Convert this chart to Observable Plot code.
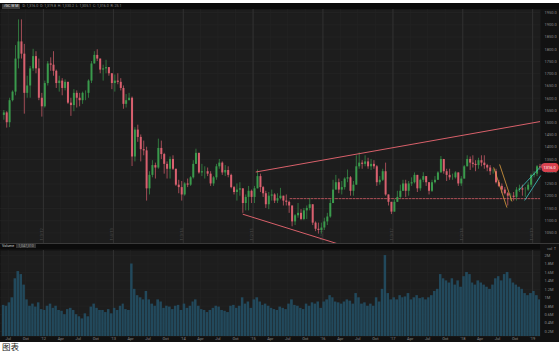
<!DOCTYPE html>
<html><head><meta charset="utf-8">
<script src="https://cdn.jsdelivr.net/npm/d3@7"></script>
<script src="https://cdn.jsdelivr.net/npm/@observablehq/plot@0.6"></script>
<style>
html,body{margin:0;padding:0;background:#fff;width:559px;height:351px;overflow:hidden;font-family:Roboto,"DejaVu Sans",sans-serif;}
#wrap{position:relative;width:559px;height:351px;}
.abs{position:absolute;}
#hdr{left:0;top:3px;width:559px;height:6px;background:#0b0b0b;color:#8a8a8a;font-size:3.6px;line-height:6px;white-space:nowrap;}
#hdr .sym{display:inline-block;background:#3c3c3c;color:#e8e8e8;padding:0 2px;margin:0 2px 0 2px;line-height:5px;}
#sep{left:0;top:243px;width:559px;height:1px;background:#3a3a3a;}
#vhdr{left:0;top:244px;width:540px;height:5px;background:#0b0b0b;color:#cfcfcf;font-size:3.6px;line-height:5px;white-space:nowrap;}
#vhdr .val{display:inline-block;background:#333;color:#9a9a9a;padding:0 2px;line-height:4px;margin-left:2px;}
#cap{left:2px;top:342px;font-family:"Noto Sans CJK SC",sans-serif;font-size:8.5px;line-height:9px;color:#1a1a1a;}
</style></head><body>
<div id="wrap">
  <div id="hdr" class="abs"><span class="sym">/GC W M</span>D: 1,316.0 &nbsp;O: 1,319.8 &nbsp;H: 1,330.2 &nbsp;L: 1,305.1 &nbsp;C: 1,316.0 &nbsp;R: 25.1</div>
  <div id="price" class="abs" style="left:0;top:9px"></div>
  <div id="sep" class="abs"></div>
  <div id="vol" class="abs" style="left:0;top:244px"></div>
  <div id="vhdr" class="abs"><span style="margin-left:2px">Volume</span><span class="val">1,047,310</span></div>
  <div id="cap" class="abs">图表</div>
</div>
<script>
// ---- data (gold futures, half-month candles) ----
const firstOpen = 1530;
const closes = [
  1540,1500,1590,1625,1760,1830,1780,1620,1650,1720,1770,1720,1600,1565,
  1660,1740,1735,1710,1660,1670,1640,1665,1580,1570,1620,1600,1590,1620,1620,1670,1740,1775,1760,1715,1720,1725,1700,1660,
  1670,1665,1640,1575,1590,1600,1360,1470,1440,1390,1385,1230,1285,1325,1315,1395,1370,1330,1310,1350,1310,1245,1235,1205,
  1250,1245,1275,1330,1375,1295,1300,1300,1290,1250,1275,1320,1335,1295,1305,1285,1235,1215,1225,1230,1170,1195,1220,1195,
  1230,1280,1235,1210,1165,1200,1205,1180,1190,1200,1180,1175,1160,1095,1120,1130,1105,1140,1150,1165,1090,1065,1060,1070,
  1095,1115,1170,1225,1255,1225,1235,1270,1275,1220,1245,1320,1335,1330,1340,1320,1330,1320,1255,1265,1300,1205,1175,1135,
  1175,1195,1220,1250,1220,1250,1255,1285,1230,1265,1280,1255,1220,1255,1265,1295,1350,1300,1285,1275,1275,1295,1250,1270,
  1320,1350,1335,1330,1325,1345,1335,1325,1315,1300,1300,1255,1240,1225,1210,1200,1200,1195,1225,1230,1225,1225,1245,1285,
  1290,1320,1316
];
const highs = [
  1550,1545,1600,1630,1815,1920,1920,1820,1690,1730,1800,1790,1760,1620,
  1670,1750,1765,1790,1715,1690,1680,1675,1665,1600,1635,1630,1620,1625,1630,1675,1750,1790,1798,1760,1735,1755,1725,1700,
  1695,1700,1680,1650,1615,1620,1605,1480,1490,1450,1425,1400,1300,1345,1335,1433,1425,1375,1340,1360,1365,1295,1265,1260,
  1255,1270,1280,1345,1392,1375,1330,1320,1315,1300,1280,1330,1350,1340,1325,1320,1290,1240,1250,1255,1230,1205,1240,1225,
  1240,1307,1290,1240,1220,1215,1225,1210,1210,1232,1200,1205,1180,1160,1125,1170,1145,1150,1160,1190,1160,1095,1090,1090,
  1110,1130,1185,1265,1285,1270,1260,1275,1307,1280,1260,1365,1377,1345,1365,1355,1350,1345,1325,1280,1310,1335,1205,1175,
  1185,1220,1245,1265,1265,1260,1275,1295,1270,1270,1296,1275,1250,1265,1280,1300,1362,1340,1310,1310,1290,1300,1290,1280,
  1325,1365,1360,1365,1345,1355,1365,1365,1330,1325,1310,1310,1265,1250,1235,1215,1210,1215,1235,1245,1245,1235,1255,1290,
  1300,1325,1330
];
const lows = [
  1510,1478,1480,1585,1610,1720,1760,1535,1600,1600,1710,1700,1590,1523,
  1560,1650,1710,1690,1640,1625,1610,1630,1575,1526,1545,1560,1565,1575,1590,1600,1660,1740,1750,1700,1670,1700,1690,1635,
  1625,1655,1630,1555,1560,1590,1321,1340,1420,1340,1365,1180,1205,1275,1270,1310,1350,1290,1270,1270,1305,1240,1210,1180,
  1200,1235,1240,1270,1330,1290,1280,1270,1280,1240,1240,1265,1310,1285,1280,1275,1230,1205,1180,1200,1130,1140,1140,1170,
  1170,1230,1215,1195,1150,1145,1180,1170,1170,1185,1160,1160,1130,1075,1080,1110,1100,1100,1105,1140,1080,1055,1045,1045,
  1060,1080,1110,1190,1230,1210,1205,1225,1255,1200,1200,1250,1310,1310,1320,1310,1305,1310,1240,1245,1260,1200,1160,1125,
  1145,1180,1190,1225,1195,1200,1240,1250,1215,1220,1255,1240,1205,1215,1250,1265,1300,1290,1260,1265,1265,1270,1240,1240,
  1275,1320,1305,1315,1300,1310,1320,1310,1300,1285,1290,1250,1235,1210,1205,1160,1180,1180,1180,1215,1200,1195,1220,1235,
  1275,1280,1305
];
const volumes = [ // millions of contracts
  0.82,0.80,0.88,1.00,1.45,1.62,1.55,1.30,0.95,0.80,0.85,0.78,0.88,0.72,
  0.70,0.80,0.85,0.75,0.80,0.70,0.68,0.60,0.72,0.75,0.70,0.60,0.55,0.50,0.62,0.55,0.78,0.85,0.75,0.70,0.70,0.65,0.72,0.62,
  0.75,0.70,0.80,0.85,0.72,0.70,1.80,1.20,1.05,1.00,0.95,1.15,0.95,0.85,0.80,0.95,0.90,0.75,0.80,0.78,0.72,0.80,0.82,0.70,
  0.85,0.75,0.80,0.90,0.95,0.80,0.72,0.70,0.65,0.70,0.75,0.80,0.78,0.70,0.68,0.65,0.80,0.82,0.75,0.80,1.00,0.85,0.90,0.75,
  0.95,1.00,0.90,0.82,0.85,0.80,0.75,0.72,0.70,0.78,0.75,0.72,0.85,0.95,0.82,0.80,0.75,0.72,0.85,0.80,0.88,0.85,0.90,0.75,
  0.90,0.95,1.05,1.00,0.90,0.88,0.85,0.90,0.95,0.92,0.85,1.10,1.00,0.85,0.88,0.80,0.85,0.80,1.00,0.90,1.20,2.00,1.10,0.95,
  1.00,0.95,1.05,1.00,1.02,1.10,0.95,1.00,1.05,0.98,1.00,0.95,1.00,1.05,1.15,1.20,1.55,1.45,1.40,1.35,1.45,1.30,1.40,1.25,
  1.50,1.60,1.55,1.35,1.30,1.40,1.35,1.30,1.25,1.20,1.30,1.45,1.50,1.40,1.55,1.60,1.45,1.35,1.30,1.25,1.20,1.10,1.05,1.10,
  1.15,1.05,0.95
];
const priceTicks = [1050,1100,1150,1200,1250,1300,1350,1400,1450,1500,1550,1600,1650,1700,1750,1800,1850,1900,1950];
const volTicks = [0.2,0.4,0.6,0.8,1.0,1.2,1.4,1.6,1.8,2.0];
const quarterTicks = ["2011-07-01","2011-10-01","2012-01-01","2012-04-01","2012-07-01","2012-10-01","2013-01-01","2013-04-01","2013-07-01","2013-10-01","2014-01-01","2014-04-01","2014-07-01","2014-10-01","2015-01-01","2015-04-01","2015-07-01","2015-10-01","2016-01-01","2016-04-01","2016-07-01","2016-10-01","2017-01-01","2017-04-01","2017-07-01","2017-10-01","2018-01-01","2018-04-01","2018-07-01","2018-10-01","2019-01-01"];
const yearLabels = ["1/3/12","1/4/13","1/3/14","1/2/15","1/4/16","1/3/17","1/2/18","1/4/19"];
// drawn studies
const resistanceLine = [{date:"2015-01-17", price:1299},{date:"2019-02-11", price:1505}];
const supportLine = [{date:"2014-11-10", price:1126},{date:"2016-05-05", price:994}];
const horizLevel = [{date:"2015-07-13", price:1190},{date:"2019-02-11", price:1190}];
const orangeA = [{date:"2018-06-12", price:1316},{date:"2018-08-19", price:1155}];
const orangeB = [{date:"2018-07-13", price:1328},{date:"2018-09-14", price:1180}];
const cyanA = [{date:"2018-10-21", price:1225},{date:"2019-02-11", price:1320}];
const cyanB = [{date:"2018-11-21", price:1184},{date:"2019-02-11", price:1283}];

// ---- build ----
const parse = d3.utcParse("%Y-%m-%d");
const starts = [];
for (let y = 2011; y <= 2019; y++) for (let m = 0; m < 12; m++) for (const day of [1,16]) {
  const d = new Date(Date.UTC(y, m, day));
  if (d >= Date.UTC(2011,5,1) && starts.length < closes.length) starts.push(d);
}
const candles = closes.map((c, i) => {
  const open = i === 0 ? firstOpen : closes[i-1];
  const start = starts[i];
  const end = i + 1 < starts.length ? starts[i+1] : new Date(+start + 15*864e5);
  return {start, end, mid: new Date((+start + +end)/2), open, close: c,
          high: Math.max(highs[i], open, c), low: Math.min(lows[i], open, c),
          up: c >= open, vol: volumes[i]};
});
const ln = arr => arr.map(d => ({date: parse(d.date), price: d.price}));
const qDates = quarterTicks.map(parse);
const yDates = qDates.filter(d => d.getUTCMonth() === 0);
const xDomain = [parse("2011-05-22"), parse("2019-02-11")];
const UP = "#3a9a4c", DN = "#d9606f", TL = "#d8606a";
const font = "Roboto, 'DejaVu Sans', sans-serif";

const pricePlot = Plot.plot({
  width: 559, height: 234,
  marginTop: 0, marginBottom: 0, marginLeft: 0, marginRight: 19,
  style: {background: "#121212", color: "#8a8a8a", fontSize: "4px", fontFamily: font},
  x: {type: "utc", domain: xDomain, axis: null},
  y: {domain: [1006.8, 1962.4], axis: "right", ticks: priceTicks, tickSize: 0, tickPadding: 4, tickFormat: d => d.toFixed(1)},
  marks: [
    Plot.frame({fill: "#1d1d1d", stroke: null}),
    Plot.ruleY(priceTicks, {stroke: "#262626", strokeWidth: 0.6}),
    Plot.ruleX(qDates, {stroke: "#252525", strokeWidth: 0.6}),
    Plot.ruleX(yDates, {stroke: "#363636", strokeWidth: 0.8}),
    Plot.text(yDates, {x: d => d, frameAnchor: "bottom", rotate: -90, textAnchor: "start", dy: -3,
      text: (d, i) => yearLabels[i], fill: "#4c4c4c", fontSize: 4}),
    Plot.line(ln(horizLevel), {x: "date", y: "price", stroke: TL, strokeWidth: 0.8, strokeDasharray: "2,1.5", clip: true}),
    Plot.ruleX(candles, {x: "mid", y1: "low", y2: "high", stroke: d => d.up ? UP : DN, strokeWidth: 0.7}),
    Plot.ruleX(candles, {x: "mid", y1: "open", y2: "close", stroke: d => d.up ? UP : DN, strokeWidth: 2}),
    Plot.line(ln(resistanceLine), {x: "date", y: "price", stroke: TL, strokeWidth: 1, clip: true}),
    Plot.line(ln(supportLine), {x: "date", y: "price", stroke: TL, strokeWidth: 1, clip: false}),
    Plot.line(ln(orangeA), {x: "date", y: "price", stroke: "#e0a040", strokeWidth: 0.8}),
    Plot.line(ln(orangeB), {x: "date", y: "price", stroke: "#e0a040", strokeWidth: 0.8}),
    Plot.line(ln(cyanA), {x: "date", y: "price", stroke: "#3ec6c0", strokeWidth: 0.8}),
    Plot.line(ln(cyanB), {x: "date", y: "price", stroke: "#3ec6c0", strokeWidth: 0.8}),
    Plot.text([candles[candles.length-1]], {y: "close", frameAnchor: "right", dx: 3, textAnchor: "start",
      text: d => d.close.toFixed(1), fill: "#fff", stroke: "#d9434f", strokeWidth: 6, strokeLinejoin: "round", fontSize: 4})
  ]
});
document.getElementById("price").appendChild(pricePlot);

const fmtQ = d => d.getUTCMonth() === 0 ? "'" + String(d.getUTCFullYear()).slice(2) : d3.utcFormat("%b")(d);
const volFloor = 0.083;
const volPlot = Plot.plot({
  width: 559, height: 98,
  marginTop: 6, marginBottom: 6, marginLeft: 0, marginRight: 19,
  style: {background: "#111111", color: "#8a8a8a", fontSize: "4px", fontFamily: font},
  x: {type: "utc", domain: xDomain, axis: "bottom", ticks: qDates, tickSize: 0, tickPadding: 1, tickFormat: fmtQ},
  y: {domain: [volFloor, 2.12], axis: "right", ticks: volTicks, tickSize: 0, tickPadding: 4, tickFormat: d => d3.format("~g")(d) + "M"},
  marks: [
    Plot.frame({fill: "#1d1d1d", stroke: null}),
    Plot.ruleY(volTicks, {stroke: "#262626", strokeWidth: 0.5}),
    Plot.ruleX(qDates, {stroke: "#252525", strokeWidth: 0.6}),
    Plot.ruleX(yDates, {stroke: "#363636", strokeWidth: 0.8}),
    Plot.rect(candles, {x1: "start", x2: "end", y1: () => volFloor, y2: "vol", fill: "#22495c", insetRight: 0.4, clip: true})
  ]
});
document.getElementById("vol").appendChild(volPlot);
</script>
</body></html>
